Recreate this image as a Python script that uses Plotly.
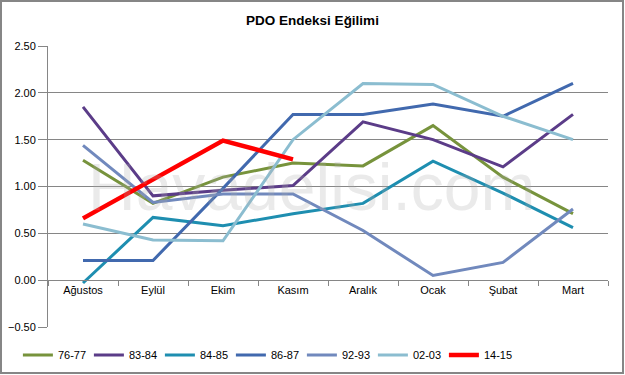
import plotly.graph_objects as go

months = ["Ağustos", "Eylül", "Ekim", "Kasım", "Aralık", "Ocak", "Şubat", "Mart"]
s7677 = [1.28, 0.82, 1.10, 1.25, 1.22, 1.65, 1.10, 0.71]
s8384 = [1.85, 0.90, 0.96, 1.01, 1.69, 1.50, 1.21, 1.77]
s8485 = [-0.03, 0.67, 0.58, 0.71, 0.82, 1.27, 0.93, 0.56]
s8687 = [0.21, 0.21, 0.98, 1.77, 1.77, 1.88, 1.75, 2.10]
s9293 = [1.44, 0.83, 0.92, 0.92, 0.53, 0.05, 0.19, 0.76]
s0203 = [0.60, 0.43, 0.42, 1.50, 2.10, 2.09, 1.75, 1.50]
s1415 = [0.66, 1.08, 1.49, 1.29]
ytickvals = [-0.5, 0.0, 0.5, 1.0, 1.5, 2.0, 2.5]

series = [
    ("76-77", s7677, "#77933C", 3),
    ("83-84", s8384, "#5B3C88", 3),
    ("84-85", s8485, "#1E8EB0", 3),
    ("86-87", s8687, "#4169AE", 3),
    ("92-93", s9293, "#7189BD", 3),
    ("02-03", s0203, "#8BBDD0", 3),
    ("14-15", s1415, "#FF0000", 4.5),
]

fig = go.Figure()
for name, vals, color, w in series:
    fig.add_trace(go.Scatter(x=months[:len(vals)], y=vals, mode="lines", name=name,
                             line=dict(color=color, width=w)))

font = "Liberation Sans, Arial, sans-serif"
fig.update_layout(
    width=625, height=375,
    margin=dict(l=48, r=17, t=46, b=48, autoexpand=False),
    paper_bgcolor="white", plot_bgcolor="white",
    font=dict(family=font, size=11, color="black"),
    title=dict(text="<b>PDO Endeksi Eğilimi</b>", x=0.5, xanchor="center",
               y=0.945, yanchor="middle", font=dict(size=13.5, family=font)),
    showlegend=True,
    legend=dict(orientation="h", x=0.39, xanchor="center", y=-0.1, yanchor="middle",
                font=dict(size=11), itemwidth=30, entrywidth=26, entrywidthmode="pixels",
                tracegroupgap=0),
    xaxis=dict(type="category", categoryorder="array", categoryarray=months,
               range=[-0.5, 7.5], anchor="free", position=1/6, automargin=False,
               showline=True, linecolor="#868686", linewidth=1,
               ticks="outside", tickson="boundaries", ticklen=5, tickcolor="#868686",
               showgrid=False, zeroline=False, tickfont=dict(size=11)),
    yaxis=dict(range=[-0.5, 2.5], tickvals=ytickvals, tickformat=".2f", automargin=False,
               showgrid=True, gridcolor="#868686", gridwidth=1,
               showline=True, linecolor="#868686", linewidth=1,
               ticks="outside", ticklen=9, tickcolor="#868686",
               zeroline=False, tickfont=dict(size=11)),
    annotations=[dict(text="Havadelisi.com", x=3.27, y=1.0, xref="x", yref="y",
                      showarrow=False, font=dict(size=66, family=font,
                                                 color="rgba(170,170,170,0.25)"))],
    shapes=[dict(type="rect", xref="paper", yref="paper",
                 x0=(1 - 48) / 560, x1=(623 - 48) / 560,
                 y0=(327 - 373) / 281, y1=(327 - 1) / 281,
                 line=dict(color="#868686", width=2))],
)

fig.write_html("out.html", config={"displayModeBar": False},
               post_script="document.body.style.margin='0';document.body.style.overflow='hidden';")
